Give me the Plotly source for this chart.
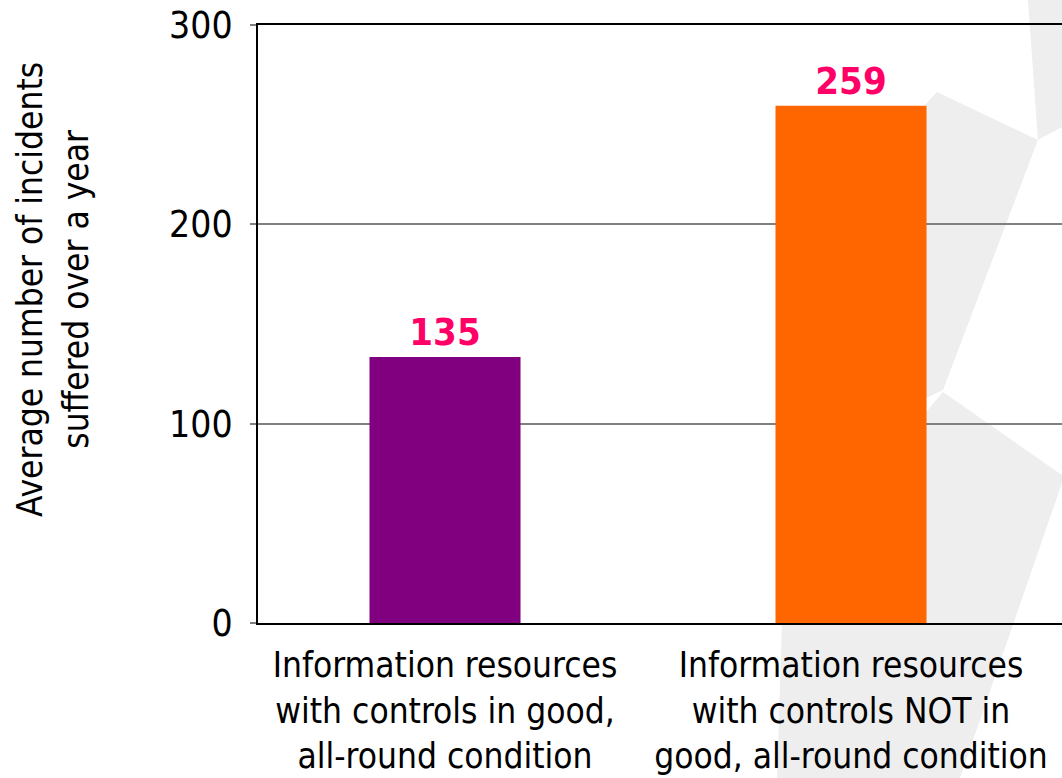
import plotly.graph_objects as go

# ---- data ----
categories = [
    "Information resources<br>with controls in good,<br>all-round condition",
    "Information resources<br>with controls NOT in<br>good, all-round condition",
]
values = [133.5, 259.5]
value_labels = ["135", "259"]
bar_colors = ["#800080", "#FF6600"]
y_ticks = [0, 100, 200, 300]
y_title = "Average number of incidents<br>suffered over a year"

# ---- layout geometry (pixels) ----
W, H = 1062, 778
L, R, T, B = 258, 0, 25, 155
PW, PH = W - L - R, H - T - B


def px(x, y):
    return (x - L) / PW, (H - B - y) / PH


def poly(points):
    pts = [px(x, y) for x, y in points]
    return "M " + " L ".join(f"{a:.4f},{b:.4f}" for a, b in pts) + " Z"


bg_polys = [
    [(1028, 0), (1062, 0), (1062, 127), (1038, 140)],
    [(937, 92), (1038, 140), (943, 390), (926, 398), (880, 300), (926, 104)],
    [(943, 392), (1062, 475), (1062, 483), (960, 778), (777, 778), (782, 623),
     (850, 500), (926, 412)],
]

font = "DejaVu Sans Condensed, DejaVu Sans, sans-serif"

fig = go.Figure()
fig.add_trace(go.Bar(
    x=[0, 1], y=values, width=0.372,
    marker=dict(color=bar_colors, line=dict(width=0)),
    text=value_labels, textposition="outside", cliponaxis=False,
    textfont=dict(family=font, size=38, color="#FF0066", weight="bold"),
    hoverinfo="skip",
))

shapes = [dict(type="path", path=poly(p), xref="paper", yref="paper",
               fillcolor="#EEEEEE", line=dict(width=0), layer="below")
          for p in bg_polys]

fig.update_layout(
    width=W, height=H,
    margin=dict(l=L, r=R, t=T, b=B, pad=0),
    paper_bgcolor="white", plot_bgcolor="rgba(0,0,0,0)",
    showlegend=False,
    shapes=shapes,
    xaxis=dict(
        range=[-0.4606, 1.5197], tickvals=[0, 1], ticktext=categories,
        tickfont=dict(family=font, size=35, color="black"),
        showline=True, linecolor="black", linewidth=2, mirror=True,
        showgrid=False, zeroline=False, ticks="", tickangle=0,
        ticklabelstandoff=10, automargin=False,
    ),
    yaxis=dict(
        range=[0, 300], tickvals=y_ticks,
        tickfont=dict(family=font, size=37, color="black"),
        showline=True, linecolor="black", linewidth=2,
        showgrid=True, gridcolor="#808080", gridwidth=1.5,
        zeroline=False, ticks="outside", ticklen=6, tickcolor="#808080",
        tickwidth=1.5, ticklabelstandoff=10, automargin=False,
    ),
    annotations=[dict(
        text=y_title, textangle=-90, xref="paper", yref="paper",
        x=px(53, 290)[0], y=px(53, 290)[1], xanchor="center", yanchor="middle",
        showarrow=False, font=dict(family=font, size=35, color="black"),
    )],
)

fig.write_html("out.html")
